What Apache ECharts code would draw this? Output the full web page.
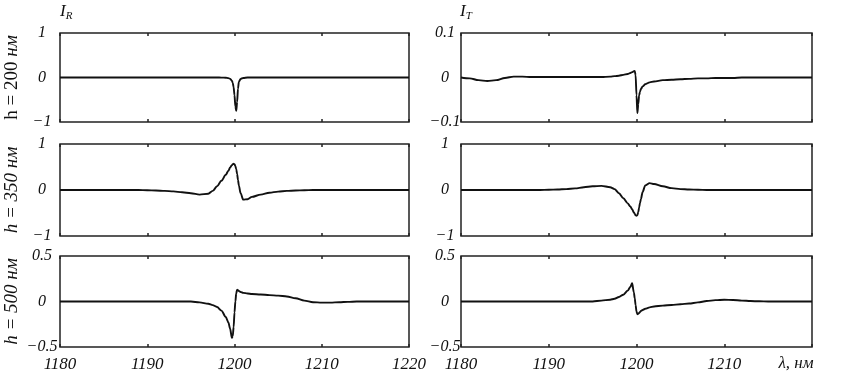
<!DOCTYPE html>
<html>
<head>
<meta charset="utf-8">
<script src="https://cdn.jsdelivr.net/npm/echarts@6/dist/echarts.min.js"></script>
<style>
  html, body { margin: 0; padding: 0; background: #fff; }
  #chart { width: 852px; height: 388px; }
</style>
</head>
<body>
<div id="chart"></div>
<script>
// длина волны, нм (шаг мельче около резонанса 1200 нм)
const lambda = [
  1180, 1181, 1182, 1183, 1184, 1185, 1186, 1187, 1188, 1189, 1190, 1191, 1192, 1193, 1194, 1195, 1196, 1197,
  1197.5, 1198, 1198.5, 1199, 1199.3, 1199.5, 1199.7, 1199.8, 1199.9, 1200, 1200.1, 1200.2, 1200.3, 1200.4, 1200.5,
  1200.7, 1201, 1201.5, 1202,
  1203, 1204, 1205, 1206, 1207, 1208, 1209, 1210, 1211, 1212, 1213, 1214, 1215, 1216, 1217, 1218, 1219, 1220
]

// h = 200 нм
const ir200 = [
  0, 0, 0, 0, 0, 0, 0, 0, 0, 0, 0, 0, 0, 0, 0, 0, 0, 0,
  0, 0, -0.002, -0.005, -0.015, -0.03, -0.07, -0.12, -0.22, -0.4, -0.65, -0.75, -0.55, -0.25, -0.1,
  -0.03, -0.01, 0, 0,
  0, 0, 0, 0, 0, 0, 0, 0, 0, 0, 0, 0, 0, 0, 0, 0, 0, 0
]
const it200 = [
  0, -0.002, -0.006, -0.008, -0.006, -0.001, 0.002, 0.002, 0.001, 0.001, 0.001, 0.001, 0.001, 0.001, 0.001, 0.001, 0.001, 0.002,
  0.003, 0.004, 0.006, 0.008, 0.01, 0.012, 0.014, 0.015, 0.005, -0.04, -0.08, -0.06, -0.04, -0.032, -0.026,
  -0.02, -0.015, -0.011, -0.009,
  -0.006, -0.005, -0.004, -0.003, -0.002, -0.002, -0.001, -0.001, -0.001, 0, 0, 0, 0, 0, 0, 0, 0, 0
]

// h = 350 нм
const ir350 = [
  0, 0, 0, 0, 0, 0, 0, 0, 0, 0, -0.005, -0.01, -0.02, -0.03, -0.05, -0.07, -0.1, -0.08,
  -0.02, 0.08, 0.2, 0.33, 0.42, 0.49, 0.54, 0.56, 0.57, 0.56, 0.52, 0.45, 0.35, 0.22, 0.1,
  -0.07, -0.21, -0.2, -0.15,
  -0.1, -0.06, -0.035, -0.02, -0.01, -0.005, 0, 0, 0, 0, 0, 0, 0, 0, 0, 0, 0, 0
]
const it350 = [
  0, 0, 0, 0, 0, 0, 0, 0, 0, 0, 0.005, 0.01, 0.02, 0.035, 0.06, 0.08, 0.09, 0.06,
  0.02, -0.07, -0.18, -0.29, -0.36, -0.42, -0.49, -0.52, -0.55, -0.56, -0.55, -0.48, -0.38, -0.28, -0.2,
  -0.04, 0.1, 0.15, 0.13,
  0.08, 0.04, 0.02, 0.01, 0.005, 0, 0, 0, 0, 0, 0, 0, 0, 0, 0, 0, 0, 0
]

// h = 500 нм
const ir500 = [
  0, 0, 0, 0, 0, 0, 0, 0, 0, 0, 0, 0, 0, 0, 0, 0, -0.01, -0.025,
  -0.04, -0.06, -0.1, -0.17, -0.23, -0.3, -0.4, -0.38, -0.28, -0.12, 0, 0.09, 0.13, 0.125, 0.115,
  0.105, 0.095, 0.088, 0.083,
  0.077, 0.07, 0.065, 0.055, 0.035, 0.01, -0.008, -0.012, -0.012, -0.008, -0.004, 0, 0, 0, 0, 0, 0, 0
]
const it500 = [
  0, 0, 0, 0, 0, 0, 0, 0, 0, 0, 0, 0, 0, 0, 0, 0, 0.01, 0.02,
  0.03, 0.05, 0.075, 0.12, 0.16, 0.2, 0.1, 0.035, -0.04, -0.11, -0.14, -0.135, -0.125, -0.115, -0.105,
  -0.093, -0.08, -0.065, -0.055,
  -0.045, -0.038, -0.03, -0.022, -0.01, 0.005, 0.015, 0.019, 0.016, 0.01, 0.005, 0.002, 0, 0, 0, 0, 0, 0
]

const rowLabels = ['200', '350', '500']
const yRanges = [
  [-1, 1, 1], [-0.1, 0.1, 0.1],
  [-1, 1, 1], [-1, 1, 1],
  [-0.5, 0.5, 0.5], [-0.5, 0.5, 0.5]
]
const panels = [ir200, it200, ir350, it350, ir500, it500]

const serif = 'Liberation Serif'
const rows = [
  { top: 33, height: 89 },
  { top: 144, height: 92 },
  { top: 256, height: 91 }
]
const cols = [
  { left: 60, width: 349 },
  { left: 461, width: 351 }
]

const grid = []
const xAxis = []
const yAxis = []
const series = []

const tickStyle = { show: true, inside: true, length: 3, lineStyle: { color: '#222', width: 1.5 } }

panels.forEach((arr, i) => {
  const r = Math.floor(i / 2)
  const c = i % 2
  grid.push({
    left: cols[c].left,
    width: cols[c].width,
    top: rows[r].top,
    height: rows[r].height,
    show: true,
    borderColor: '#222',
    borderWidth: 1.5
  })
  const bottomRow = r === 2
  // нижняя ось
  xAxis.push({
    type: 'value',
    gridIndex: i,
    position: 'bottom',
    min: 1180,
    max: 1220,
    interval: 10,
    axisLine: { show: false, onZero: false },
    splitLine: { show: false },
    axisTick: tickStyle,
    axisLabel: {
      show: bottomRow,
      margin: 9,
      fontFamily: serif,
      fontStyle: 'italic',
      fontSize: 17,
      color: '#111',
      formatter: (v) => (c === 1 && v === 1220 ? '' : String(v))
    }
  })
  // верхняя ось (только риски)
  xAxis.push({
    type: 'value',
    gridIndex: i,
    position: 'top',
    min: 1180,
    max: 1220,
    interval: 10,
    axisLine: { show: false, onZero: false },
    splitLine: { show: false },
    axisTick: tickStyle,
    axisLabel: { show: false }
  })
  const yr = yRanges[i]
  yAxis.push({
    type: 'value',
    gridIndex: i,
    min: yr[0],
    max: yr[1],
    interval: yr[2],
    axisLine: { show: false, onZero: false },
    splitLine: { show: false },
    axisTick: { show: false },
    axisLabel: {
      margin: c === 0 ? 18 : 16,
      align: 'center',
      fontFamily: serif,
      fontStyle: 'italic',
      fontSize: 16,
      color: '#111',
      formatter: (v) => (v === 0 ? '0' : String(v).replace('-', '−'))
    }
  })
  series.push({
    type: 'line',
    xAxisIndex: i * 2,
    yAxisIndex: i,
    showSymbol: false,
    smooth: 0.3,
    smoothMonotone: 'x',
    lineStyle: { color: '#111', width: 1.9 },
    data: lambda.map((x, k) => [x, arr[k]])
  })
})

const titleRich = {
  i: { fontFamily: serif, fontStyle: 'italic', fontSize: 17, fill: '#111' },
  s: { fontFamily: serif, fontStyle: 'italic', fontSize: 11, fill: '#111', padding: [9, 0, 0, 0] }
}

const graphic = [
  { type: 'text', left: 60, top: 3, style: { text: '{i|I}{s|R}', rich: titleRich } },
  { type: 'text', left: 460, top: 3, style: { text: '{i|I}{s|T}', rich: titleRich } },
  {
    type: 'text',
    x: 796,
    y: 364,
    style: {
      text: 'λ, нм',
      fontFamily: serif,
      fontStyle: 'italic',
      fontSize: 17,
      fill: '#111',
      align: 'center',
      verticalAlign: 'middle'
    }
  }
]

rowLabels.forEach((t, r) => {
  const st = r === 0 ? 'normal' : 'italic'
  graphic.push({
    type: 'text',
    x: 12,
    y: rows[r].top + rows[r].height / 2,
    rotation: Math.PI / 2,
    style: {
      text: '{a|h = ' + t + ' }{b|нм}',
      align: 'center',
      verticalAlign: 'middle',
      rich: {
        a: { fontFamily: serif, fontStyle: st, fontSize: 19, fill: '#111' },
        b: { fontFamily: serif, fontStyle: 'italic', fontSize: 19, fill: '#111' }
      }
    }
  })
})

const myEchart = echarts.init(document.getElementById('chart'), null, { renderer: 'canvas' })
myEchart.setOption({
  animation: false,
  backgroundColor: '#fff',
  grid,
  xAxis,
  yAxis,
  series,
  graphic
})
</script>
</body>
</html>
